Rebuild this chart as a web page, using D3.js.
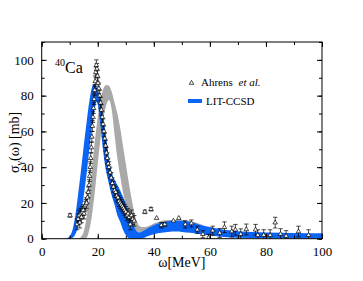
<!DOCTYPE html>
<html>
<head>
<meta charset="utf-8">
<script src="https://cdn.jsdelivr.net/npm/d3@7"></script>
<style>
  body { margin: 0; background: #fff; }
  svg text { font-family: "Liberation Serif", "Times New Roman", serif !important; }
</style>
</head>
<body>
<div id="chart"></div>
<script>
var svgWidth = 363;
var svgHeight = 281;

var margin = { top: 42, right: 41, bottom: 42.3, left: 41.7 };
var width = svgWidth - margin.left - margin.right;
var height = svgHeight - margin.top - margin.bottom;

// Ahrens et al. data (omega [MeV], sigma [mb], error [mb])
var ahrensE = [10.1, 12.6, 13.0, 13.3, 13.6, 13.9, 14.2, 14.5, 14.8, 15.1, 15.4, 15.7, 16.0, 16.3, 16.6, 16.9,
  17.1, 17.3, 17.5, 17.7, 17.9, 18.1, 18.3, 18.5, 18.7, 18.9, 19.1, 19.3, 19.5, 19.7, 19.9, 20.1, 20.4, 20.7,
  21.0, 21.3, 21.6, 21.9, 22.2, 22.5, 22.8, 23.1, 23.4, 23.7, 24.0, 24.4, 24.8, 25.2, 25.6, 26.0, 26.4, 26.8,
  27.2, 27.6, 28.0, 28.4, 28.8, 29.2, 29.6, 30.0, 30.4, 30.8, 31.2, 31.6, 32.0, 32.5, 33.0,
  36.8, 39.0, 41.0, 42.7, 43.9, 47.0, 48.9, 51.2, 53.4, 55.5, 57.5, 59.5, 61.0, 63.5, 65.2, 67.8, 69.1, 71.0,
  73.0, 76.3, 77.1, 79.2, 81.5, 83.3, 85.2, 87.2, 91.6, 95.2];
var ahrensSigma = [13, 8, 11, 13, 9, 14, 12, 15, 16, 14, 18, 19, 20, 23, 26, 30,
  35, 40, 45, 51, 57, 63, 68, 73, 78, 83, 88, 93, 97, 95, 91, 87, 84, 80,
  76, 72, 68, 64, 60, 56, 52, 48, 45, 42, 40, 37, 34, 31, 29, 27, 26, 24,
  23, 21, 20, 19, 18, 17, 16, 15, 13, 14, 12, 8, 13, 11, 10,
  15, 16.5, 11.5, 7.5, 8, 10, 11.5, 8, 8.5, 5, 2.5, 0.5, 4.5, 3.2, 6.4, 4, 5, 2.5,
  5.2, 5, 2, 2, 2, 9, 2.6, 1.5, 4, 2];
var ahrensErr = [1, 3, 3, 3, 3, 3, 3, 3, 3, 3, 3, 3, 3, 3, 3, 3,
  3, 3, 3, 3, 3, 3, 3, 3, 3, 3, 3, 3, 3, 3, 3, 3, 3, 3,
  3, 3, 3, 3, 3, 3, 3, 3, 3, 3, 3, 3, 3, 3, 3, 3, 3, 3,
  3, 3, 3, 3, 3, 3, 3, 3, 3, 3, 3, 3, 3, 3, 3,
  1, 1, 0, 1.5, 1, 0, 0, 2, 2, 2, 2, 2, 2.5, 2.5, 3, 3, 3, 3,
  3, 3, 3, 3, 3, 3, 3, 3, 3, 3];

// LIT-CCSD band (blue)
var ccsdE = [8, 9, 10, 11, 12, 13, 14, 15, 16, 17, 18, 18.5, 19, 19.5, 20, 20.5, 21, 21.5, 22, 22.5, 23, 23.5,
  24, 25, 26, 27, 28, 29, 30, 31, 32, 33, 34, 35, 36, 38, 40, 42, 45, 48, 50, 53, 56, 60, 65, 70, 80, 90, 100];
var ccsdHi = [0, 0.3, 1.5, 5, 13, 25, 38, 52, 65, 77, 85, 86.5, 86.5, 85, 83, 80, 76.5, 72, 67, 62, 56.5, 51,
  45, 37, 33, 30, 27, 23.5, 19.5, 14, 10, 6.5, 4, 3.5, 4.2, 6, 7.5, 8.8, 9.8, 10, 10, 9.3, 8, 6.5, 5, 4.2, 3.5, 3.2, 3];
var ccsdLo = [0, 0, 0, 0.5, 2.5, 7, 14, 24, 36, 50, 63, 68, 73, 76.5, 75, 70, 63, 55, 48, 42, 37.5, 34,
  30.5, 24, 19, 13, 9.5, 5, 2, 0.3, 0, 0, 0, 0, 0.2, 1.5, 2.5, 3.2, 3.8, 4, 3.8, 3.3, 2.6, 1.8, 1, 0.5, 0.2, 0.1, 0];

// second band (grey)
var greyE = [13, 14, 15, 16, 17, 18, 19, 20, 21, 22, 23, 24, 25, 26, 27, 28, 29, 30, 31, 32, 33, 34, 35, 36,
  38, 40, 45, 50, 55, 60, 65, 70, 80, 100];
var greyHi = [0, 1, 4, 12, 24, 40, 55, 68, 78, 84, 86, 85.5, 82, 76, 70, 62, 52, 42, 32, 23, 15, 9.5, 7, 6.5,
  7, 8.5, 10.5, 10.5, 9, 6, 3.5, 2.5, 2, 1.5];
var greyLo = [0, 0, 0, 0.5, 5, 14, 27, 42, 56, 67, 74.5, 77.5, 72, 58, 45, 35, 26, 19, 13, 8.5, 5.5, 4, 3.5, 3,
  3.5, 5, 6.5, 6.5, 5, 3, 1.5, 1, 0.8, 0.5];

var xTicks = [0, 20, 40, 60, 80, 100];
var yTicks = [0, 20, 40, 60, 80, 100];

var svg = d3.select("#chart")
  .append("svg")
  .attr("width", svgWidth)
  .attr("height", svgHeight)
  .attr("font-family", "Liberation Serif, serif");

var chartGroup = svg.append("g")
  .attr("transform", `translate(${margin.left}, ${margin.top})`);

var xScale = d3.scaleLinear().domain([0, 100]).range([0, width]);
var yScale = d3.scaleLinear().domain([0, 110]).range([height, 0]);

chartGroup.append("clipPath").attr("id", "clip")
  .append("rect").attr("width", width).attr("height", height);

var plot = chartGroup.append("g").attr("clip-path", "url(#clip)");

function band(xs, lo, hi) {
  return d3.area()
    .x((d, i) => xScale(xs[i]))
    .y0((d, i) => yScale(lo[i]))
    .y1((d, i) => yScale(hi[i]))
    .curve(d3.curveMonotoneX)(xs);
}

plot.append("path")
  .attr("d", band(greyE, greyLo, greyHi))
  .attr("fill", "#a9a9a9");

plot.append("path")
  .attr("d", band(ccsdE, ccsdLo, ccsdHi))
  .attr("fill", "#0a64f5");

// error bars
var errGroup = plot.append("g")
  .attr("stroke", "#000")
  .attr("stroke-width", 0.7)
  .attr("fill", "none");

ahrensE.forEach(function (e, i) {
  var err = ahrensErr[i];
  if (err <= 0) return;
  var x = xScale(e);
  var y0 = yScale(ahrensSigma[i] - err);
  var y1 = yScale(ahrensSigma[i] + err);
  errGroup.append("path")
    .attr("d", `M${x},${y0}V${y1}M${x - 2.2},${y0}H${x + 2.2}M${x - 2.2},${y1}H${x + 2.2}`);
});

var tri = d3.symbol().type(d3.symbolTriangle).size(9);

plot.selectAll(".pt")
  .data(ahrensE)
  .enter()
  .append("path")
  .attr("class", "pt")
  .attr("d", tri)
  .attr("transform", (d, i) => `translate(${xScale(d)},${yScale(ahrensSigma[i])})`)
  .attr("fill", "#fff")
  .attr("stroke", "#000")
  .attr("stroke-width", 0.7);

// axes with inward ticks on all four sides
function styleAxis(g) {
  g.attr("font-family", null).attr("font-size", null);
  g.select(".domain").remove();
  g.selectAll("line").attr("stroke", "#000");
  g.selectAll("text")
    .style("font-size", "13px")
    .attr("fill", "#000");
}

var minorX = d3.range(0, 101, 10);
var minorY = d3.range(0, 111, 10);

chartGroup.append("g")
  .attr("transform", `translate(0,${height})`)
  .call(d3.axisBottom(xScale).tickValues(minorX).tickSize(-3).tickFormat(""))
  .call(styleAxis);
chartGroup.append("g")
  .attr("transform", `translate(0,${height})`)
  .call(d3.axisBottom(xScale).tickValues(xTicks).tickSize(-5).tickPadding(8))
  .call(styleAxis);

chartGroup.append("g")
  .call(d3.axisTop(xScale).tickValues(minorX).tickSize(-3).tickFormat(""))
  .call(styleAxis);
chartGroup.append("g")
  .call(d3.axisTop(xScale).tickValues(xTicks).tickSize(-5).tickFormat(""))
  .call(styleAxis);

chartGroup.append("g")
  .call(d3.axisLeft(yScale).tickValues(minorY).tickSize(-3).tickFormat(""))
  .call(styleAxis);
chartGroup.append("g")
  .call(d3.axisLeft(yScale).tickValues(yTicks).tickSize(-5).tickPadding(8))
  .call(styleAxis);

chartGroup.append("g")
  .attr("transform", `translate(${width},0)`)
  .call(d3.axisRight(yScale).tickValues(minorY).tickSize(-3).tickFormat(""))
  .call(styleAxis);
chartGroup.append("g")
  .attr("transform", `translate(${width},0)`)
  .call(d3.axisRight(yScale).tickValues(yTicks).tickSize(-5).tickFormat(""))
  .call(styleAxis);

chartGroup.append("rect")
  .attr("width", width)
  .attr("height", height)
  .attr("fill", "none")
  .attr("stroke", "#000")
  .attr("stroke-width", 1);

// axis titles
svg.append("text")
  .attr("x", margin.left + width / 2)
  .attr("y", 267)
  .attr("text-anchor", "middle")
  .style("font-size", "14px")
  .text("ω[MeV]");

var yLabel = svg.append("text")
  .attr("transform", `translate(19, ${margin.top + height / 2 + 2}) rotate(-90)`)
  .attr("text-anchor", "middle")
  .style("font-size", "14px");
yLabel.append("tspan").text("σ");
yLabel.append("tspan").attr("dy", 4).style("font-size", "10px").text("γ");
yLabel.append("tspan").attr("dy", -4).text("(ω) [mb]");

// nucleus label
var ca = svg.append("text")
  .attr("x", 55)
  .attr("y", 73)
  .style("font-size", "16px");
ca.append("tspan").attr("dy", -7).style("font-size", "10px").text("40");
ca.append("tspan").attr("dy", 7).text("Ca");

// legend
svg.append("path")
  .attr("d", d3.symbol().type(d3.symbolTriangle).size(9)())
  .attr("transform", "translate(191.5,83)")
  .attr("fill", "#fff")
  .attr("stroke", "#000")
  .attr("stroke-width", 0.7);

var leg1 = svg.append("text")
  .attr("x", 201)
  .attr("y", 86)
  .style("font-size", "11px");
leg1.append("tspan").text("Ahrens ");
leg1.append("tspan").attr("dx", 3).style("font-style", "italic").text("et al.");

svg.append("line")
  .attr("x1", 188).attr("x2", 202)
  .attr("y1", 101).attr("y2", 101)
  .attr("stroke", "#0a64f5")
  .attr("stroke-width", 4);

svg.append("text")
  .attr("x", 206)
  .attr("y", 105)
  .style("font-size", "11px")
  .text("LIT-CCSD");
</script>
</body>
</html>
